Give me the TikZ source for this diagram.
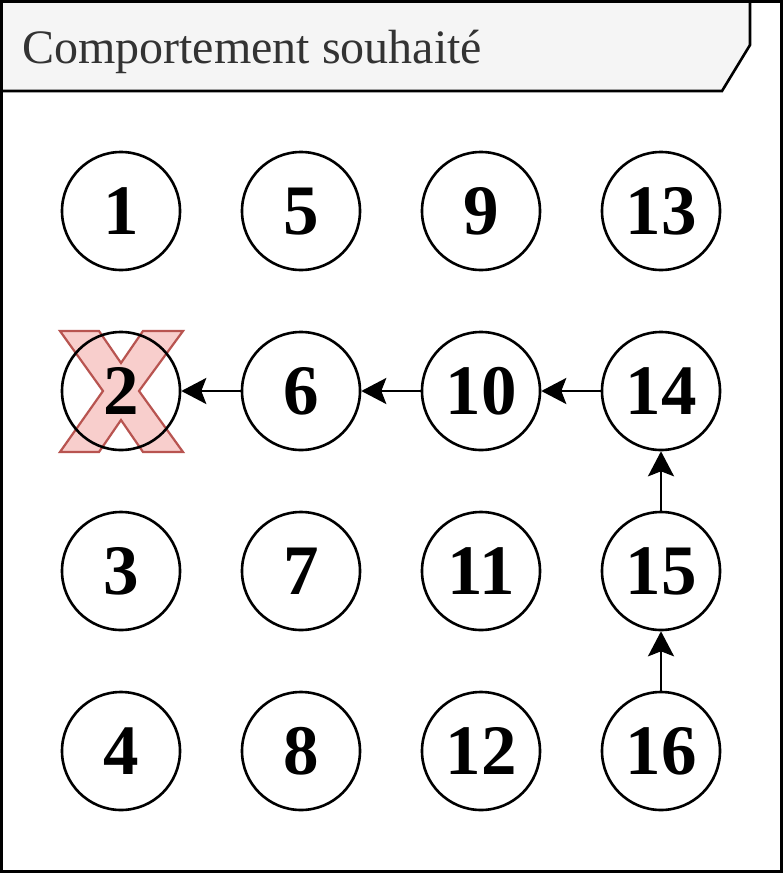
\documentclass[tikz,border=0pt]{standalone}
\usepackage{fontspec}
\setmainfont{Liberation Serif}
\usetikzlibrary{arrows.meta}
\definecolor{hdrfill}{HTML}{F5F5F5}
\definecolor{hdrtext}{HTML}{333333}
\definecolor{xfill}{HTML}{F8CECC}
\definecolor{xdraw}{HTML}{B85450}
\tikzset{
  numcircle/.style={circle, draw=black, line width=2.6pt, minimum size=118pt, inner sep=0pt,
    font=\fontsize{71}{71}\selectfont\bfseries, text height=47pt, text depth=0pt},
  flowarrow/.style={line width=2.6pt, -{Stealth[length=25pt, width=26pt, inset=5pt]}},
  framebox/.style={draw=black, line width=2.6pt},
}
\begin{document}
\begin{tikzpicture}[x=1pt, y=-1pt]
\useasboundingbox (0,0) rectangle (783,873);
% frame
\draw[framebox, fill=white] (1.5,1.5) rectangle (781.5,871.5);
\draw[framebox, fill=hdrfill] (1.5,1.5) -- (750,1.5) -- (750,45) -- (722,91) -- (1.5,91) -- cycle;
\node[anchor=base west, font=\fontsize{48}{48}\selectfont, text=hdrtext, inner sep=0pt] (title) at (22,63) {Comportement souhaité};
% cross mark
\draw[xdraw, fill=xfill, line width=2.2pt] (60,331) -- (99,331) -- (121,363) -- (143,331) -- (183,331) -- (139,391) -- (183,452) -- (143,452) -- (121,420) -- (99,452) -- (60,452) -- (103,391) -- cycle;
% nodes
\node[numcircle] (n1) at (121,211) {1};
\node[numcircle] (n2) at (121,391) {2};
\node[numcircle] (n3) at (121,571) {3};
\node[numcircle] (n4) at (121,751) {4};
\node[numcircle] (n5) at (301,211) {5};
\node[numcircle] (n6) at (301,391) {6};
\node[numcircle] (n7) at (301,571) {7};
\node[numcircle] (n8) at (301,751) {8};
\node[numcircle] (n9) at (481,211) {9};
\node[numcircle] (n10) at (481,391) {10};
\node[numcircle] (n11) at (481,571) {11};
\node[numcircle] (n12) at (481,751) {12};
\node[numcircle] (n13) at (661,211) {13};
\node[numcircle] (n14) at (661,391) {14};
\node[numcircle] (n15) at (661,571) {15};
\node[numcircle] (n16) at (661,751) {16};
% arrows
\draw[flowarrow] (n16) -- (n15);
\draw[flowarrow] (n15) -- (n14);
\draw[flowarrow] (n14) -- (n10);
\draw[flowarrow] (n10) -- (n6);
\draw[flowarrow] (n6) -- (n2);
\end{tikzpicture}
\end{document}
